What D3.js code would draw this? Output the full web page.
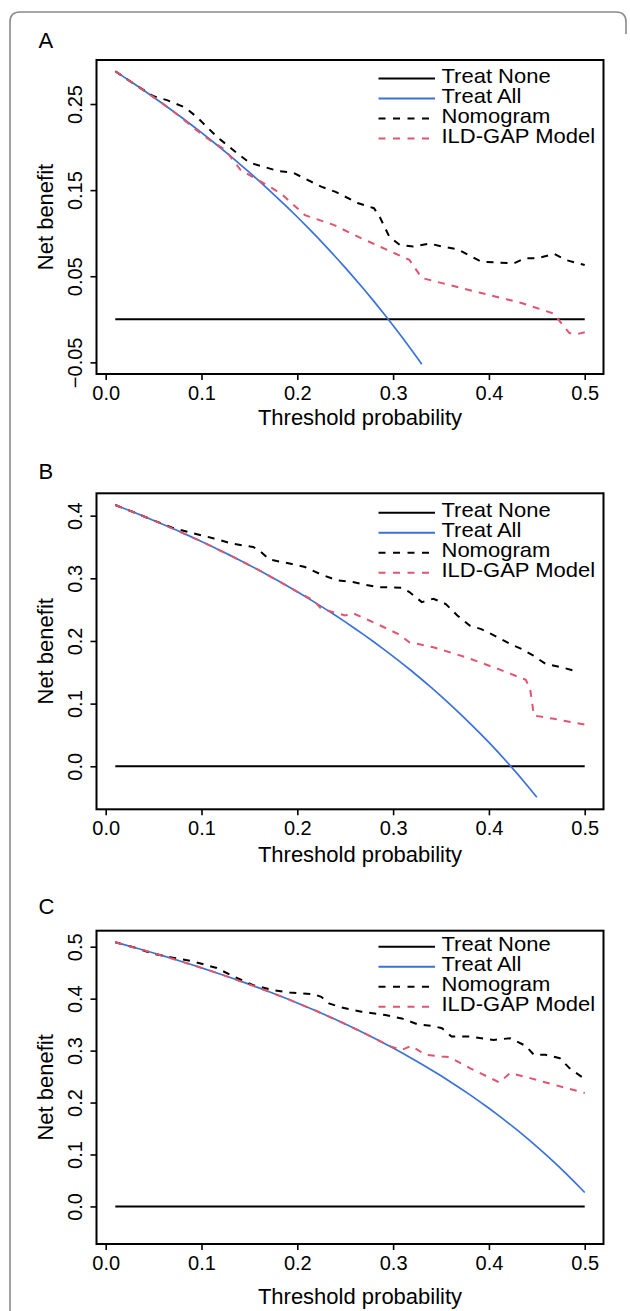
<!DOCTYPE html>
<html>
<head>
<meta charset="utf-8">
<script src="https://cdn.jsdelivr.net/npm/d3@7"></script>
<style>
  body { margin: 0; background: #fff; }
  text { font-family: "Liberation Sans", Arial, Helvetica, sans-serif; fill: #000; }
</style>
</head>
<body>
<div id="chart"></div>
<script>
// threshold probabilities used by the reference curves
var thresholds = [0.01,0.02,0.03,0.04,0.05,0.06,0.07,0.08,0.09,0.10,
                  0.11,0.12,0.13,0.14,0.15,0.16,0.17,0.18,0.19,0.20,
                  0.21,0.22,0.23,0.24,0.25,0.26,0.27,0.28,0.29,0.30,
                  0.31,0.32,0.33,0.34,0.35,0.36,0.37,0.38,0.39,0.40,
                  0.41,0.42,0.43,0.44,0.45,0.46,0.47,0.48,0.49,0.50];

var treatNoneX = [0.01, 0.5];
var treatNoneY = [0, 0];

// Treat All, read per threshold (panel A stops at 0.33, B at 0.45)
var treatAllA = [0.2879,0.2806,0.2732,0.2656,0.2579,0.2500,0.2419,0.2337,0.2253,0.2167,
                 0.2079,0.1989,0.1897,0.1802,0.1706,0.1607,0.1506,0.1402,0.1296,0.1188,
                 0.1076,0.0962,0.0844,0.0724,0.0600,0.0473,0.0343,0.0208,0.0070,-0.0071,
                 -0.0217,-0.0368,-0.0522];
var treatAllB = [0.4170,0.4110,0.4050,0.3988,0.3924,0.3860,0.3794,0.3726,0.3657,0.3587,
                 0.3515,0.3441,0.3366,0.3288,0.3209,0.3129,0.3046,0.2961,0.2874,0.2785,
                 0.2694,0.2600,0.2504,0.2405,0.2304,0.2200,0.2093,0.1983,0.1870,0.1754,
                 0.1635,0.1512,0.1385,0.1255,0.1120,0.0981,0.0838,0.0690,0.0538,0.0380,
                 0.0217,0.0048,-0.0126,-0.0307,-0.0495];
var treatAllC = [0.5085,0.5035,0.4984,0.4931,0.4878,0.4823,0.4768,0.4711,0.4653,0.4593,
                 0.4533,0.4471,0.4407,0.4342,0.4275,0.4207,0.4137,0.4066,0.3993,0.3918,
                 0.3841,0.3762,0.3681,0.3597,0.3512,0.3424,0.3334,0.3242,0.3147,0.3049,
                 0.2948,0.2844,0.2737,0.2627,0.2514,0.2397,0.2276,0.2152,0.2023,0.1890,
                 0.1753,0.1610,0.1463,0.1311,0.1153,0.0989,0.0819,0.0642,0.0459,0.0268];

// model curves as [threshold, net benefit]
var nomogramA = [[0.01,0.288],[0.03,0.273],[0.05,0.259],[0.064,0.2545],[0.083,0.246],[0.095,0.235],
                 [0.116,0.212],[0.137,0.193],[0.15,0.182],[0.179,0.1725],[0.196,0.170],[0.225,0.154],
                 [0.24,0.148],[0.263,0.135],[0.28,0.129],[0.286,0.119],[0.296,0.096],[0.307,0.0864],
                 [0.321,0.0845],[0.338,0.088],[0.351,0.0845],[0.367,0.0815],[0.392,0.067],[0.426,0.065],
                 [0.438,0.071],[0.451,0.071],[0.468,0.076],[0.48,0.069],[0.5,0.063]];
var ildgapA = [[0.01,0.288],[0.03,0.273],[0.05,0.258],[0.07,0.242],[0.09,0.224],[0.1,0.215],
               [0.11,0.207],[0.125,0.1966],[0.141,0.173],[0.162,0.160],[0.183,0.146],[0.208,0.121],
               [0.238,0.1096],[0.267,0.094],[0.292,0.0815],[0.317,0.069],[0.33,0.048],[0.351,0.042],
               [0.392,0.0305],[0.434,0.019],[0.468,0.0065],[0.474,-0.0024],[0.484,-0.016],
               [0.493,-0.017],[0.5,-0.015]];

var nomogramB = [[0.01,0.417],[0.03,0.405],[0.049,0.393],[0.07,0.3806],[0.091,0.372],[0.112,0.364],
                 [0.133,0.355],[0.154,0.350],[0.162,0.342],[0.171,0.330],[0.192,0.3235],[0.208,0.318],
                 [0.225,0.306],[0.242,0.2966],[0.258,0.294],[0.283,0.286],[0.309,0.285],[0.317,0.278],
                 [0.330,0.262],[0.342,0.2674],[0.355,0.259],[0.367,0.2407],[0.38,0.2246],[0.392,0.219],
                 [0.409,0.206],[0.422,0.1954],[0.434,0.1874],[0.446,0.177],[0.459,0.1636],
                 [0.476,0.158],[0.49,0.152]];
var ildgapB = [[0.01,0.417],[0.03,0.405],[0.05,0.3924],[0.07,0.3794],[0.1,0.3587],[0.13,0.3366],
               [0.16,0.3129],[0.19,0.2874],[0.2,0.2785],[0.217,0.2647],[0.225,0.2514],[0.25,0.2407],
               [0.258,0.2444],[0.283,0.2273],[0.305,0.2113],[0.317,0.198],[0.342,0.190],[0.376,0.174],
               [0.409,0.1556],[0.4385,0.138],[0.443,0.1235],[0.447,0.081],[0.468,0.0757],[0.5,0.0665]];

var nomogramC = [[0.01,0.5085],[0.03,0.4984],[0.049,0.4866],[0.07,0.479],[0.091,0.4718],[0.116,0.459],
                 [0.133,0.443],[0.154,0.426],[0.175,0.4165],[0.192,0.412],[0.217,0.4086],[0.225,0.4035],
                 [0.233,0.391],[0.246,0.383],[0.267,0.375],[0.292,0.3684],[0.309,0.362],[0.325,0.351],
                 [0.342,0.3473],[0.351,0.343],[0.361,0.327],[0.38,0.327],[0.405,0.3205],[0.422,0.3238],
                 [0.4385,0.309],[0.447,0.2918],[0.459,0.292],[0.474,0.2854],[0.484,0.2663],[0.5,0.2452]];
var ildgapC = [[0.01,0.5085],[0.04,0.4931],[0.07,0.4768],[0.1,0.4593],[0.13,0.4407],[0.16,0.4207],
               [0.19,0.3993],[0.22,0.3762],[0.25,0.3512],[0.27,0.3334],[0.29,0.3147],[0.298,0.3077],
               [0.309,0.3013],[0.319,0.309],[0.334,0.2918],[0.351,0.2885],[0.359,0.2874],[0.38,0.2663],
               [0.411,0.2387],[0.422,0.2567],[0.443,0.247],[0.468,0.2343],[0.5,0.2184]];

var xTicks = [0, 0.1, 0.2, 0.3, 0.4, 0.5];
var yTicksA = [-0.05, 0.05, 0.15, 0.25];
var yTicksB = [0, 0.1, 0.2, 0.3, 0.4];
var yTicksC = [0, 0.1, 0.2, 0.3, 0.4, 0.5];
var ylimA = [-0.05, 0.2876], ylimB = [-0.05, 0.417], ylimC = [-0.05, 0.5085];

var legendNames = ["Treat None", "Treat All", "Nomogram", "ILD-GAP Model"];

var blue = "#3a72d8", red = "#e2546e";
var legendStyles = [
  {color: "#000", dash: null, width: 2},
  {color: blue, dash: null, width: 2},
  {color: "#000", dash: "7,7.5", width: 2},
  {color: red, dash: "7,7.5", width: 2}
];

var W = 630, H = 1311;
var svg = d3.select("#chart").append("svg")
    .attr("width", W)
    .attr("height", H);

// outer frame (rounded corners, cut off at the bottom)
svg.append("path")
    .attr("d", "M10," + H + " L10,22 Q10,12 20,12 L616,12 Q626,12 626,22 L626,34")
    .attr("fill", "none")
    .attr("stroke", "#8a8a8a")
    .attr("stroke-width", 1.6);

var panels = [
  {label: "A", labelY: 48, top: 60, bottom: 374, ylim: ylimA, ticks: yTicksA, fmt: ".2f",
   legendY: 78.5, titleY: 425, treatAll: treatAllA, nomo: nomogramA, ild: ildgapA},
  {label: "B", labelY: 479, top: 493.3, bottom: 809.3, ylim: ylimB, ticks: yTicksB, fmt: ".1f",
   legendY: 512.7, titleY: 861.5, treatAll: treatAllB, nomo: nomogramB, ild: ildgapB},
  {label: "C", labelY: 914, top: 930.7, bottom: 1244, ylim: ylimC, ticks: yTicksC, fmt: ".1f",
   legendY: 946.7, titleY: 1304, treatAll: treatAllC, nomo: nomogramC, ild: ildgapC}
];

var left = 96.5, right = 603.5;
var xlim = [0.01, 0.5];
var xpad = (xlim[1] - xlim[0]) * 0.04;

panels.forEach(function(p) {
  var x = d3.scaleLinear()
      .domain([xlim[0] - xpad, xlim[1] + xpad])
      .range([left, right]);
  var ypad = (p.ylim[1] - p.ylim[0]) * 0.04;
  var y = d3.scaleLinear()
      .domain([p.ylim[0] - ypad, p.ylim[1] + ypad])
      .range([p.bottom, p.top]);

  var line = d3.line()
      .x(function(d) { return x(d[0]); })
      .y(function(d) { return y(d[1]); });

  // panel letter
  svg.append("text")
      .attr("x", 38.5)
      .attr("y", p.labelY)
      .style("font-size", "22px")
      .text(p.label);

  // x axis
  var gx = svg.append("g")
      .attr("transform", "translate(0," + p.bottom + ")")
      .call(d3.axisBottom(x).tickValues(xTicks).tickSize(6).tickSizeOuter(0)
            .tickPadding(6).tickFormat(d3.format(".1f")));
  gx.select(".domain").remove();
  gx.selectAll("line").attr("stroke", "#000").attr("stroke-width", 1.6);
  gx.selectAll("text").style("font-size", "20px").attr("fill", "#000");

  // y axis with rotated labels
  var gy = svg.append("g")
      .attr("transform", "translate(" + left + ",0)")
      .call(d3.axisLeft(y).tickValues(p.ticks).tickSize(6).tickSizeOuter(0)
            .tickFormat(d3.format(p.fmt)));
  gy.select(".domain").remove();
  gy.selectAll("line").attr("stroke", "#000").attr("stroke-width", 1.6);
  gy.selectAll("text")
      .attr("transform", "rotate(-90)")
      .attr("x", 0)
      .attr("y", -15)
      .attr("dy", 0)
      .attr("text-anchor", "middle")
      .attr("fill", "#000")
      .style("font-size", "20px");

  // axis titles
  svg.append("text")
      .attr("x", 360)
      .attr("y", p.titleY)
      .attr("text-anchor", "middle")
      .style("font-size", "22px")
      .text("Threshold probability");

  svg.append("text")
      .attr("transform", "translate(53," + ((p.top + p.bottom) / 2) + ") rotate(-90)")
      .attr("text-anchor", "middle")
      .style("font-size", "22px")
      .text("Net benefit");

  // curves
  var noneData = treatNoneX.map(function(t, i) { return [t, treatNoneY[i]]; });
  var allData = p.treatAll.map(function(v, i) { return [thresholds[i], v]; });

  svg.append("path").datum(noneData)
      .attr("fill", "none").attr("stroke", "#000").attr("stroke-width", 2)
      .attr("d", line);
  svg.append("path").datum(allData)
      .attr("fill", "none").attr("stroke", blue).attr("stroke-width", 1.7)
      .attr("stroke-linejoin", "round")
      .attr("d", line);
  svg.append("path").datum(p.nomo)
      .attr("fill", "none").attr("stroke", "#000").attr("stroke-width", 2)
      .attr("stroke-dasharray", "7,7")
      .attr("d", line);
  svg.append("path").datum(p.ild)
      .attr("fill", "none").attr("stroke", red).attr("stroke-width", 2)
      .attr("stroke-dasharray", "7,7")
      .attr("d", line);

  // plot box
  svg.append("rect")
      .attr("x", left).attr("y", p.top)
      .attr("width", right - left).attr("height", p.bottom - p.top)
      .attr("fill", "none").attr("stroke", "#000").attr("stroke-width", 2);

  // legend (text slightly widened, like the original)
  var lg = svg.append("g");
  legendNames.forEach(function(name, i) {
    var ly = p.legendY + i * 20;
    var st = legendStyles[i];
    lg.append("line")
        .attr("x1", 378.5).attr("x2", 435)
        .attr("y1", ly).attr("y2", ly)
        .attr("stroke", st.color)
        .attr("stroke-width", st.width)
        .attr("stroke-dasharray", st.dash);
    lg.append("text")
        .attr("transform", "translate(441.5," + (ly + 4) + ") scale(1.1,1)")
        .style("font-size", "20px")
        .text(name);
  });
});
</script>
</body>
</html>
